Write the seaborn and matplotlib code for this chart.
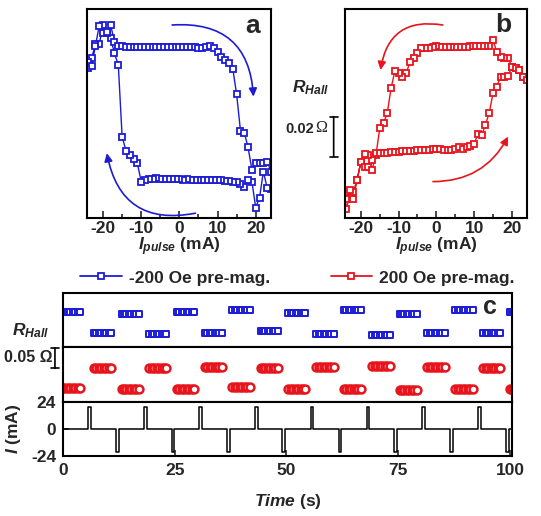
import pandas as pd
import seaborn as sns
import matplotlib.pyplot as plt
from matplotlib.lines import Line2D

# current sweep grid (mA) for the two hysteresis loops
i_down = list(range(24, -25, -1))
i_up = list(range(-24, 25))

# panel a, -200 Oe pre-mag. (R_Hall offset, Ohm)
r_a_down = [0.0145, 0.0150, 0.0232, 0.0102, 0.0052, 0.0182, 0.0190, 0.0153, 0.0172, 0.0178,
            0.0182, 0.0185, 0.0186, 0.0188, 0.0188, 0.0190, 0.0189, 0.0190, 0.0192, 0.0191,
            0.0190, 0.0192, 0.0193, 0.0192, 0.0193, 0.0194, 0.0195, 0.0194, 0.0196, 0.0197,
            0.0199, 0.0196, 0.0195, 0.0192, 0.0182, 0.0273, 0.0293, 0.0315, 0.0337, 0.0407,
            0.0765, 0.0823, 0.0898, 0.0923, 0.0965, 0.0868, 0.0868, 0.0799, 0.0749]
r_a_up = [0.0780, 0.0760, 0.0860, 0.0960, 0.0925, 0.0930, 0.0965, 0.0880, 0.0862, 0.0858,
          0.0857, 0.0857, 0.0856, 0.0856, 0.0857, 0.0856, 0.0855, 0.0856, 0.0856, 0.0855,
          0.0856, 0.0856, 0.0855, 0.0856, 0.0856, 0.0855, 0.0856, 0.0855, 0.0856, 0.0850,
          0.0848, 0.0855, 0.0862, 0.0852, 0.0832, 0.0807, 0.0790, 0.0774, 0.0745, 0.0618,
          0.0437, 0.0427, 0.0353, 0.0240, 0.0273, 0.0277, 0.0277, 0.0282, 0.0232]

# panel b, +200 Oe pre-mag.
r_b_down = [0.0690, 0.0707, 0.0740, 0.0748, 0.0757, 0.0798, 0.0800, 0.0807, 0.0830, 0.0890,
            0.0862, 0.0862, 0.0860, 0.0862, 0.0860, 0.0858, 0.0857, 0.0855, 0.0856, 0.0855,
            0.0854, 0.0855, 0.0857, 0.0857, 0.0858, 0.0857, 0.0852, 0.0850, 0.0848, 0.0823,
            0.0800, 0.0780, 0.0723, 0.0707, 0.0723, 0.0735, 0.0648, 0.0527, 0.0473, 0.0448,
            0.0315, 0.0290, 0.0315, 0.0320, 0.0280, 0.0190, 0.0132, 0.0098, 0.0045]
r_b_up = [0.0093, 0.0140, 0.0093, 0.0190, 0.0280, 0.0253, 0.0253, 0.0240, 0.0323, 0.0325,
          0.0326, 0.0327, 0.0328, 0.0330, 0.0331, 0.0333, 0.0334, 0.0336, 0.0337, 0.0338,
          0.0340, 0.0341, 0.0342, 0.0345, 0.0345, 0.0343, 0.0340, 0.0338, 0.0340, 0.0343,
          0.0357, 0.0345, 0.0353, 0.0360, 0.0370, 0.0420, 0.0415, 0.0465, 0.0527, 0.0623,
          0.0657, 0.0707, 0.0707, 0.0710, 0.0757, 0.0748, 0.0740, 0.0707, 0.0690]

# panel c: time trace, one level per read-out segment between pulses
seg_start = [0.0, 6.9, 13.1, 19.3, 25.5, 31.7, 37.9, 44.2, 50.4,
             56.7, 62.8, 69.2, 75.3, 81.5, 87.8, 94.0, 99.9]
sample_offsets = [0, 0.55, 1.1, 1.65, 2.2, 2.75, 3.3, 3.85]
r_blue_level = [0.0841, 0.0325, 0.0785, 0.0309, 0.0833, 0.0325, 0.0881, 0.0381, 0.0817,
                0.0309, 0.0881, 0.0286, 0.0777, 0.0325, 0.0881, 0.0325, 0.0841]
r_red_level = [0.0340, 0.0802, 0.0302, 0.0817, 0.0317, 0.0841, 0.0350, 0.0817, 0.0302,
               0.0833, 0.0302, 0.0849, 0.0286, 0.0825, 0.0317, 0.0817, 0.0300]
pos_pulses = [5.7, 18.1, 30.5, 43.0, 55.4, 67.9, 80.4, 92.9]
neg_pulses = [11.9, 24.3, 36.8, 49.1, 61.7, 74.1, 86.6, 99.1]
pulse_amp = 20
pulse_width = 0.6

blue = '#1c1cd6'
red = '#e8141c'

sns.set_theme(style='ticks')
plt.rcParams['font.family'] = ['Liberation Sans', 'DejaVu Sans']
plt.rcParams['font.weight'] = 'bold'
plt.rcParams['axes.labelweight'] = 'bold'
plt.rcParams['mathtext.fontset'] = 'custom'
plt.rcParams['mathtext.it'] = 'Liberation Sans:italic:bold'
plt.rcParams['mathtext.rm'] = 'Liberation Sans:bold'
plt.rcParams['mathtext.bf'] = 'Liberation Sans:bold'
plt.rcParams['axes.linewidth'] = 1.5
plt.rcParams['axes.edgecolor'] = 'black'
plt.rcParams['axes.unicode_minus'] = False

W, H = 541, 516
fig = plt.figure(figsize=(W / 100, H / 100), dpi=100)


def box(l, t, r, b):
    # pixel box -> figure fraction
    return [l / W, 1 - b / H, (r - l) / W, (b - t) / H]


def loop(ax, r_down, r_up, color):
    df = pd.DataFrame({'I': i_down + i_up, 'R': r_down + r_up})
    sns.lineplot(data=df, x='I', y='R', sort=False, estimator=None, ax=ax,
                 color=color, linewidth=1, marker='s', markersize=5,
                 markerfacecolor='white', markeredgecolor=color, markeredgewidth=1.3)
    ax.set_xlim(-24.2, 24)
    ax.set_ylim(0, 0.1045)
    ax.set_xticks([-20, -10, 0, 10, 20])
    ax.set_xticks([-15, -5, 5, 15], minor=True)
    ax.set_yticks([])
    ax.tick_params(axis='x', which='major', direction='in', length=5, width=1.2,
                   labelsize=12.5, pad=2)
    ax.tick_params(axis='x', which='minor', direction='in', length=3, width=1.2)
    ax.set_xlabel(r'$I_{pulse}$ (mA)', fontsize=12.5, labelpad=0)
    ax.set_ylabel('')


def curved(ax, start, end, rad, color):
    ax.annotate('', xy=end, xytext=start,
                arrowprops=dict(arrowstyle='-|>', color=color, lw=1.2, mutation_scale=12,
                                connectionstyle=f'arc3,rad={rad}', shrinkA=0, shrinkB=0))


ax_a = fig.add_axes(box(87, 9, 271, 218))
loop(ax_a, r_a_down, r_a_up, blue)
curved(ax_a, (-1.9, 0.0965), (19.4, 0.0607), -0.5, blue)
curved(ax_a, (4.2, 0.0024), (-19.0, 0.0324), -0.5, blue)
ax_a.text(0.9, 0.92, 'a', transform=ax_a.transAxes, fontsize=19, ha='center', va='center')

ax_b = fig.add_axes(box(345, 9, 527, 218))
loop(ax_b, r_b_down, r_b_up, red)
curved(ax_b, (1.7, 0.0965), (-14.8, 0.074), 0.5, red)
curved(ax_b, (-0.9, 0.0182), (19.0, 0.0407), 0.3, red)
ax_b.text(0.87, 0.925, 'b', transform=ax_b.transAxes, fontsize=19, ha='center', va='center')

# 0.02 Ohm scale bar beside panel b
ax_b.annotate('', xy=(-27.2, 0.0507), xytext=(-27.2, 0.0307), annotation_clip=False,
              arrowprops=dict(arrowstyle='|-|,widthA=0.25,widthB=0.25', color='black', lw=1.2,
                              shrinkA=0, shrinkB=0))
fig.text(314 / W, 1 - 129 / H, '0.02', fontsize=10.5, ha='right', va='center')
fig.text(315 / W, 1 - 128 / H, 'Ω', fontsize=11.5, ha='left', va='center',
         family='Liberation Serif', fontweight='normal')
fig.text(311 / W, 1 - 88 / H, r'$R_{Hall}$', fontsize=12.5, ha='center', va='center')

# legend row
handles = [Line2D([], [], color=blue, lw=1.3, marker='s', markersize=5, markerfacecolor='white',
                  markeredgecolor=blue, markeredgewidth=1.3),
           Line2D([], [], color=red, lw=1.3, marker='s', markersize=5, markerfacecolor='white',
                  markeredgecolor=red, markeredgewidth=1.3)]
fig.legend(handles, ['-200 Oe pre-mag.', '200 Oe pre-mag.'], ncol=2, frameon=False,
           loc='center left', bbox_to_anchor=(80 / W, 1 - 278 / H), borderpad=0,
           borderaxespad=0, handlelength=2.4, handletextpad=0.4, columnspacing=3.5,
           fontsize=12.5)

# panel c
seg_rows = []
for k, t0 in enumerate(seg_start):
    for dt in sample_offsets:
        seg_rows.append({'t': t0 + dt, 'blue': r_blue_level[k], 'red': r_red_level[k]})
seg = pd.DataFrame(seg_rows)

ax_bl = fig.add_axes(box(63, 293, 512, 347))
ax_rd = fig.add_axes(box(63, 347, 512, 402))
ax_i = fig.add_axes(box(63, 402, 512, 456))

sns.scatterplot(data=seg, x='t', y='blue', ax=ax_bl, marker='s', s=21, facecolor='white',
                edgecolor=blue, linewidth=1.4)
sns.scatterplot(data=seg, x='t', y='red', ax=ax_rd, marker='o', s=32, facecolor='white',
                edgecolor=red, linewidth=1.8)

pulse_rows = [(0.0, 0.0)]
for tp, sign in sorted([(p, 1) for p in pos_pulses] + [(p, -1) for p in neg_pulses]):
    pulse_rows += [(tp, 0), (tp, sign * pulse_amp), (tp + pulse_width, sign * pulse_amp),
                   (tp + pulse_width, 0)]
pulse_rows.append((100.5, 0.0))
cur = pd.DataFrame(pulse_rows, columns=['t', 'I'])
sns.lineplot(data=cur, x='t', y='I', sort=False, estimator=None, ax=ax_i, color='black',
             linewidth=1.1)

for ax in (ax_bl, ax_rd, ax_i):
    ax.set_xlim(0, 100.45)
    ax.set_ylabel('')
    ax.set_xlabel('')
for ax in (ax_bl, ax_rd):
    ax.set_xticks([])
    ax.set_yticks([])
ax_bl.set_ylim(0, 0.1286)
ax_rd.set_ylim(0, 0.131)
ax_i.set_ylim(-24, 24)
ax_i.set_yticks([-24, 0, 24])
ax_i.set_xticks([0, 25, 50, 75, 100])
ax_i.tick_params(direction='in', length=4, width=1.2, labelsize=12.5, pad=5)
ax_i.set_xlabel(r'$Time$ (s)', fontsize=12.5, labelpad=10)
ax_i.set_ylabel(r'$I$ (mA)', fontsize=12.5, labelpad=0)
ax_i.yaxis.set_label_coords(-0.088, 0.5)

ax_bl.text(0.951, 0.746, 'c', transform=ax_bl.transAxes, fontsize=18, ha='center', va='center')

# 0.05 Ohm scale bar
ax_rd.annotate('', xy=(-1.8, 0.129), xytext=(-1.8, 0.080), annotation_clip=False,
               arrowprops=dict(arrowstyle='|-|,widthA=0.25,widthB=0.25', color='black', lw=1.2,
                               shrinkA=0, shrinkB=0))
fig.text(52 / W, 1 - 358 / H, '0.05 Ω', fontsize=11.5, ha='right', va='center')
fig.text(31 / W, 1 - 331 / H, r'$R_{Hall}$', fontsize=12.5, ha='center', va='center')

fig.savefig('out.png', dpi=100)
